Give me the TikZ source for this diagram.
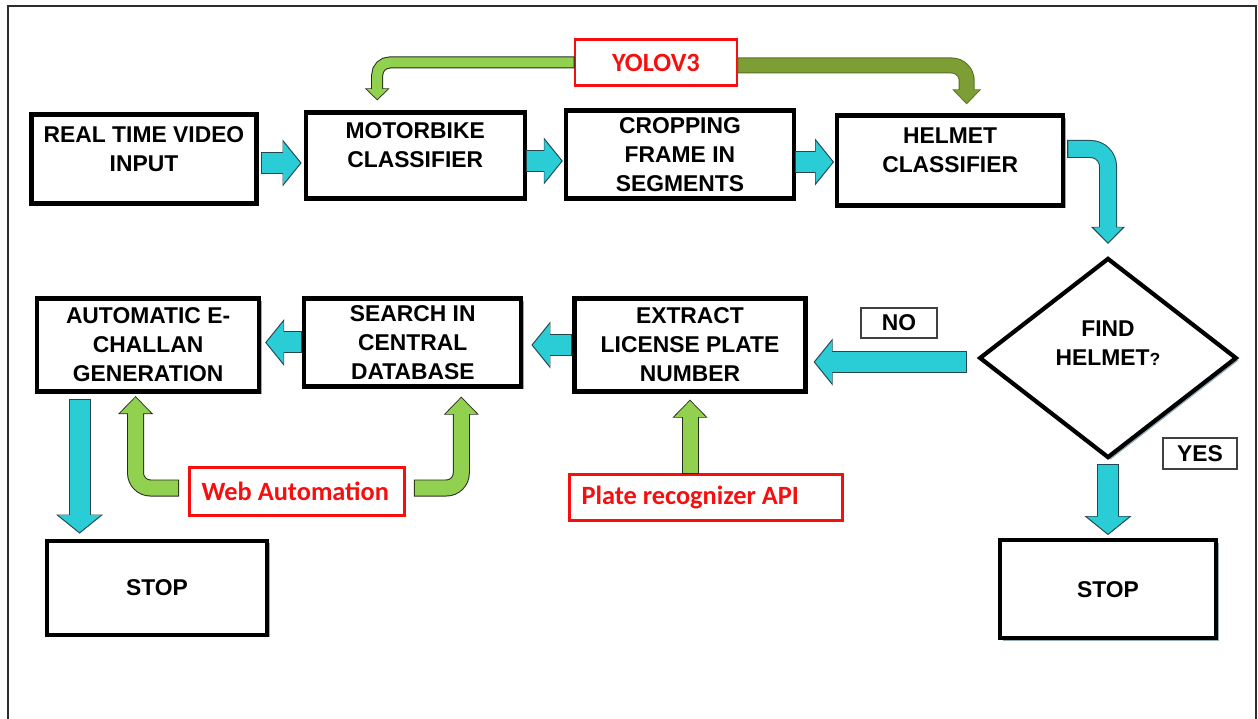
\documentclass[tikz,border=0pt]{standalone}
\usepackage{fontspec}
\setmainfont{Liberation Sans}
\newfontfamily\apifont{Carlito}
\usetikzlibrary{shapes,arrows.meta,positioning,calc,shadows}

\definecolor{flowcyan}{RGB}{42,204,214}
\definecolor{cyanedge}{RGB}{35,70,80}
\definecolor{flowgreen}{RGB}{146,208,80}
\definecolor{greenedge}{RGB}{35,45,25}
\definecolor{flowolive}{RGB}{124,158,52}
\definecolor{oliveedge}{RGB}{85,110,35}
\definecolor{toolred}{RGB}{245,15,15}
\definecolor{boxshadow}{RGB}{150,172,182}
\definecolor{framegrey}{RGB}{45,45,45}

\newcommand{\boxfont}{\fontsize{13}{16.5}\selectfont\bfseries}
\newcommand{\toolfont}{\apifont\bfseries\fontsize{15}{18}\selectfont}

\begin{document}
\begin{tikzpicture}[node distance=1cm]
\tikzstyle{block} = [rectangle, draw, line width=2.4pt, fill=white, align=center, font=\boxfont, drop shadow={shadow xshift=0.05cm, shadow yshift=-0.05cm, fill=boxshadow, opacity=1}]
\tikzstyle{twoline} = [text depth=0.4cm]
\tikzstyle{decision} = [diamond, draw, line width=2.4pt, fill=white, align=center, font=\boxfont, inner sep=0pt, text depth=0.58cm, minimum width=5.15cm, minimum height=4cm, drop shadow={shadow xshift=0.05cm, shadow yshift=-0.05cm, fill=boxshadow, opacity=1}]
\tikzstyle{answer} = [rectangle, draw=black!75, line width=0.9pt, fill=white, font=\boxfont, inner sep=0pt]
\tikzstyle{tool} = [rectangle, draw=toolred, line width=1.6pt, fill=white, text=toolred, font=\toolfont, inner xsep=0.24cm, inner ysep=0pt, align=flush left]
\tikzstyle{cyanarrow} = [draw=flowcyan, line width=0.4cm, shorten >=0.8pt, -{Triangle[length=0.34cm,width=0.82cm]}, preaction={draw=cyanedge, line width=0.44cm, shorten >=0pt, shorten <=-0.6pt, -{Triangle[length=0.38cm,width=0.92cm]}}]
\tikzstyle{cyanbend} = [draw=flowcyan, line width=0.32cm, shorten >=0.8pt, -{Triangle[length=0.3cm,width=0.56cm]}, preaction={draw=cyanedge, line width=0.36cm, shorten >=0pt, shorten <=-0.6pt, -{Triangle[length=0.34cm,width=0.66cm]}}]
\tikzstyle{greenarrow} = [draw=flowgreen, line width=0.3cm, shorten >=0.7pt, -{Triangle[length=0.32cm,width=0.6cm]}, preaction={draw=greenedge, line width=0.34cm, shorten >=0pt, shorten <=-0.6pt, -{Triangle[length=0.36cm,width=0.68cm]}}]
\tikzstyle{greenthin} = [draw=flowgreen, line width=0.2cm, shorten >=0.7pt, -{Triangle[length=0.2cm,width=0.4cm]}, preaction={draw=greenedge, line width=0.24cm, shorten >=0pt, shorten <=-0.6pt, -{Triangle[length=0.24cm,width=0.48cm]}}]
\tikzstyle{olivearrow} = [draw=flowolive, line width=0.28cm, shorten >=0.7pt, -{Triangle[length=0.26cm,width=0.48cm]}, preaction={draw=oliveedge, line width=0.32cm, shorten >=0pt, shorten <=-0.6pt, -{Triangle[length=0.3cm,width=0.56cm]}}]

\useasboundingbox (0,0) rectangle (25.16,-14.38);
\draw[framegrey, line width=0.7pt] (0.16,-14.38) |- (25.12,-0.12) -- (25.12,-14.38);

% top row
\node[block, twoline, minimum width=4.5cm, minimum height=1.78cm] at (2.88,-3.18) (input) {REAL TIME VIDEO\\INPUT};
\node[block, twoline, minimum width=4.38cm, minimum height=1.72cm, right=0.9cm of input, yshift=0.07cm] (motor) {MOTORBIKE\\CLASSIFIER};
\node[block, minimum width=4.56cm, minimum height=1.76cm, right=0.74cm of motor, yshift=0.02cm] (crop) {CROPPING\\FRAME IN\\SEGMENTS};
\node[block, twoline, minimum width=4.52cm, minimum height=1.8cm, right=0.78cm of crop, yshift=-0.12cm] (helmet) {HELMET\\CLASSIFIER};
\node[tool, align=center, text width=2.76cm, minimum height=0.92cm] at (13.12,-1.25) (yolo) {YOLOV3};

% decision
\node[decision] at (22.16,-7.16) (find) {FIND\\HELMET{\fontsize{10}{12}\selectfont ?}};
\node[answer, minimum width=1.52cm, minimum height=0.6cm] at (17.98,-6.46) (no) {NO};
\node[answer, minimum width=1.48cm, minimum height=0.62cm] at (24.0,-9.07) (yes) {YES};
\node[block, minimum width=4.32cm, minimum height=1.96cm, below=1.56cm of find] (stopR) {STOP};

% bottom row
\node[block, minimum width=4.62cm, minimum height=1.86cm] at (13.8,-6.9) (extract) {EXTRACT\\LICENSE PLATE\\NUMBER};
\node[block, minimum width=4.34cm, minimum height=1.76cm, left=0.98cm of extract, yshift=0.05cm] (search) {SEARCH IN\\CENTRAL\\DATABASE};
\node[block, minimum width=4.44cm, minimum height=1.86cm, left=0.82cm of search, yshift=-0.05cm] (challan) {AUTOMATIC E-\\CHALLAN\\GENERATION};
\node[block, minimum width=4.4cm, minimum height=1.88cm, below=2.9cm of challan, xshift=0.18cm] (stopL) {STOP};
\node[tool, text width=3.82cm, minimum height=0.96cm] at (5.94,-9.83) (web) {Web Automation};
\node[tool, text width=4.98cm, minimum height=0.92cm] at (14.12,-9.95) (plate) {Plate recognizer API};

% main flow
\draw[cyanarrow] ([xshift=0.06cm,yshift=-0.08cm]input.east) -- ([xshift=-0.04cm,yshift=-0.08cm]input.east -| motor.west);
\draw[cyanarrow] ([yshift=-0.11cm]motor.east) -- ([xshift=-0.02cm,yshift=-0.11cm]motor.east -| crop.west);
\draw[cyanarrow] ([yshift=-0.15cm]crop.east) -- ([xshift=-0.02cm,yshift=-0.15cm]crop.east -| helmet.west);
\draw[cyanbend, rounded corners=0.35cm] ([xshift=0.06cm,yshift=0.23cm]helmet.east) -| ([yshift=0.24cm]find.north);
\draw[cyanarrow] ([xshift=-0.22cm,yshift=-0.08cm]find.west) -- ([xshift=0.12cm,yshift=-0.08cm]extract.east |- find.west);
\draw[cyanarrow] ([xshift=-0.02cm]extract.west) -- ([xshift=0.16cm]search.east |- extract.west);
\draw[cyanarrow] ([xshift=-0.02cm]search.west) -- ([xshift=0.08cm]challan.east |- search.west);
\draw[cyanarrow] ([xshift=-1.37cm,yshift=-0.12cm]challan.south) -- ([xshift=-1.37cm,yshift=0.1cm]challan.south |- stopL.north);
\draw[cyanarrow] ([yshift=-0.1cm]find.south) -- ([yshift=0.06cm]stopR.north);

% helper tools
\draw[greenthin, rounded corners=0.25cm] (yolo.west) -| ([xshift=-0.76cm,yshift=0.2cm]motor.north);
\draw[olivearrow, rounded corners=0.3cm] ([yshift=-0.06cm]yolo.east) -| ([xshift=0.33cm,yshift=0.18cm]helmet.north);
\draw[greenarrow, rounded corners=0.3cm] ([xshift=-0.2cm,yshift=0.07cm]web.west) -| ([xshift=-0.25cm,yshift=-0.05cm]challan.south);
\draw[greenarrow, rounded corners=0.3cm] ([xshift=0.18cm,yshift=0.07cm]web.east) -| ([xshift=0.97cm,yshift=-0.16cm]search.south);
\draw[greenarrow] (plate.north -| extract.south) -- ([yshift=-0.12cm]extract.south);
\end{tikzpicture}
\end{document}
